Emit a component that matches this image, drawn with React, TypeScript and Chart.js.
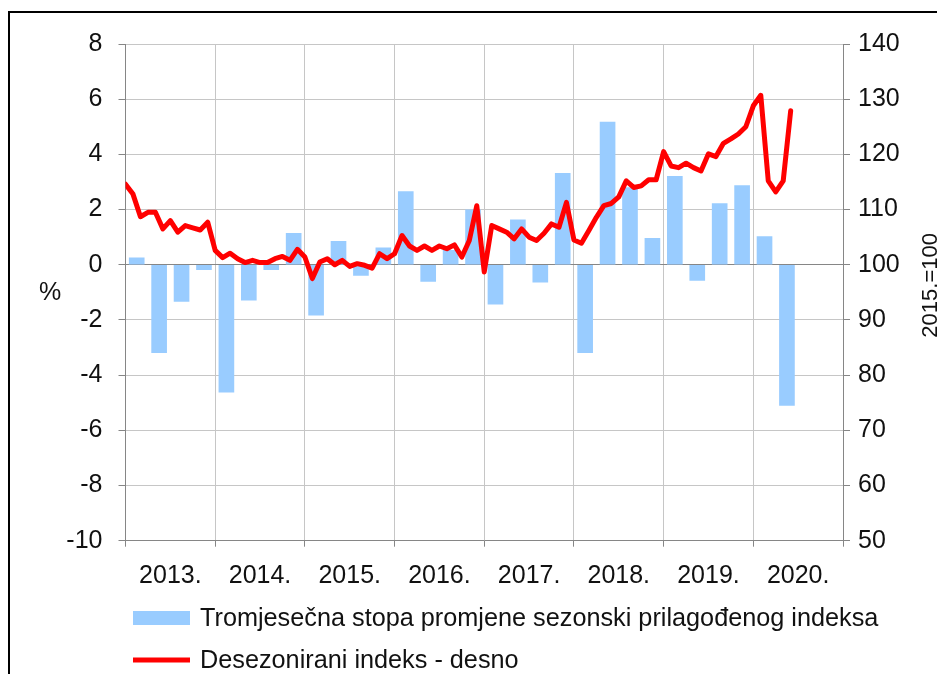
import React, { useEffect, useRef } from 'react';
import { Chart, registerables } from 'chart.js';

Chart.register(...registerables);

// ---- Data ----
const yearLabels = ['2013.', '2014.', '2015.', '2016.', '2017.', '2018.', '2019.', '2020.'];

// Quarterly rate of change (%), 2013 Q1 .. 2020 Q2
const quarterlyRate = [
  0.25, -3.19, -1.33, -0.18,
  -4.62, -1.28, -0.18, 1.14,
  -1.83, 0.85, -0.39, 0.61,
  2.65, -0.6, 0.52, 1.99,
  -1.43, 1.63, -0.63, 3.31,
  -3.19, 5.17, 2.8, 0.96,
  3.2, -0.57, 2.22, 2.87,
  1.02, -5.1,
];

// Seasonally adjusted index (2015 = 100), monthly Jan 2013 .. Jun 2020
const monthlyIndex = [
  114.6, 112.8, 108.7, 109.5, 109.5, 106.5, 108.0, 105.9, 107.1, 106.7, 106.3, 107.7,
  102.6, 101.3, 102.1, 101.1, 100.4, 100.8, 100.4, 100.4, 101.1, 101.5, 100.8, 102.8,
  101.4, 97.5, 100.5, 101.1, 100.0, 100.8, 99.7, 100.2, 99.9, 99.4, 102.0, 101.1,
  102.0, 105.3, 103.4, 102.6, 103.4, 102.6, 103.4, 102.9, 103.6, 101.4, 104.4, 110.7,
  98.7, 107.1, 106.5, 105.9, 104.7, 106.5, 105.0, 104.4, 105.7, 107.4, 106.8, 111.3,
  104.5, 103.9, 106.2, 108.6, 110.7, 111.1, 112.3, 115.2, 114.0, 114.3, 115.4, 115.4,
  120.5, 117.9, 117.6, 118.4, 117.6, 117.0, 120.1, 119.6, 122.0, 122.8, 123.7, 125.0,
  128.8, 130.7, 115.2, 113.2, 115.2, 127.9,
];

const barLabel = 'Tromjesečna stopa promjene sezonski prilagođenog indeksa';
const lineLabel = 'Desezonirani indeks - desno';
const leftTitle = '%';
const rightTitle = '2015.=100';

const FONT = "'Liberation Sans', Arial, sans-serif";
const TEXT = '#111111';
const BAR_COLOR = '#99CCFF';
const LINE_COLOR = '#FF0000';
const GRID = '#C6C6C6';
const AXIS = '#868686';

const overlayPlugin = {
  id: 'overlay',
  afterDraw(chart: any) {
    const ctx = chart.ctx as CanvasRenderingContext2D;
    const area = chart.chartArea;
    const mid = (area.top + area.bottom) / 2;
    ctx.save();
    ctx.fillStyle = TEXT;
    ctx.textBaseline = 'middle';
    ctx.textAlign = 'center';
    ctx.font = `25px ${FONT}`;
    ctx.fillText(leftTitle, 40, mid + 1);

    ctx.save();
    ctx.font = `22px ${FONT}`;
    ctx.translate(921, mid - 7);
    ctx.rotate(-Math.PI / 2);
    ctx.fillText(rightTitle, 0, 0);
    ctx.restore();

    // Legend
    ctx.font = `25.25px ${FONT}`;
    ctx.textAlign = 'left';
    ctx.fillStyle = BAR_COLOR;
    ctx.fillRect(123, 598, 57, 14);
    ctx.fillStyle = TEXT;
    ctx.fillText(barLabel, 190, 606);

    ctx.strokeStyle = LINE_COLOR;
    ctx.lineWidth = 5;
    ctx.beginPath();
    ctx.moveTo(123, 647);
    ctx.lineTo(180, 647);
    ctx.stroke();
    ctx.fillText(lineLabel, 190, 648);
    ctx.restore();
  },
};

export default function App() {
  const canvasRef = useRef<HTMLCanvasElement | null>(null);

  useEffect(() => {
    document.documentElement.style.overflow = 'hidden';
    const canvas = canvasRef.current;
    if (!canvas) return;
    Chart.defaults.font.family = FONT;

    const chart = new Chart(canvas, {
      type: 'bar',
      data: {
        datasets: [
          {
            type: 'line',
            label: lineLabel,
            data: monthlyIndex.map((v, i) => ({ x: i, y: v })),
            yAxisID: 'y1',
            xAxisID: 'x',
            borderColor: LINE_COLOR,
            backgroundColor: LINE_COLOR,
            borderWidth: 5,
            pointRadius: 0,
            tension: 0,
            borderJoinStyle: 'round',
            borderCapStyle: 'round',
            order: 0,
          } as any,
          {
            type: 'bar',
            label: barLabel,
            data: quarterlyRate.map((v, q) => ({ x: q * 3 + 1.5, y: v })),
            yAxisID: 'y',
            xAxisID: 'x',
            backgroundColor: BAR_COLOR,
            borderWidth: 0,
            barThickness: 15,
            order: 1,
          } as any,
        ],
      },
      options: {
        animation: false,
        responsive: false,
        maintainAspectRatio: false,
        layout: { padding: { left: 0, right: 0, top: 29.6, bottom: 66.3 } },
        plugins: {
          legend: { display: false },
          tooltip: { enabled: false },
        },
        scales: {
          x: {
            type: 'linear',
            position: 'bottom',
            min: 0,
            max: 96,
            offset: false,
            grid: {
              offset: false,
              color: GRID,
              tickColor: AXIS,
              lineWidth: 1,
              tickLength: 6,
              drawTicks: true,
            },
            border: { color: AXIS, width: 1 },
            ticks: {
              stepSize: 12,
              autoSkip: false,
              maxRotation: 0,
              minRotation: 0,
              labelOffset: 44.85,
              padding: 14,
              color: TEXT,
              font: { size: 25, family: FONT },
              callback: (v: any) => (v < 96 ? yearLabels[Math.round(v / 12)] : ''),
            },
            afterFit: (s: any) => {
              s.height = 70;
            },
          },
          y: {
            type: 'linear',
            position: 'left',
            min: -10,
            max: 8,
            grid: {
              color: (c: any) => (c.tick && c.tick.value === 0 ? AXIS : GRID),
              tickColor: AXIS,
              tickLength: 7,
              drawTicks: true,
            },
            border: { color: AXIS, width: 1 },
            ticks: {
              stepSize: 2,
              padding: 16,
              color: TEXT,
              font: { size: 25, family: FONT },
            },
            afterFit: (s: any) => {
              s.width = 115.5;
            },
          },
          y1: {
            type: 'linear',
            position: 'right',
            min: 50,
            max: 140,
            grid: {
              drawOnChartArea: false,
              color: AXIS,
              tickColor: AXIS,
              tickLength: 7,
              drawTicks: true,
            },
            border: { color: AXIS, width: 1 },
            ticks: {
              stepSize: 10,
              padding: 8,
              color: TEXT,
              font: { size: 25, family: FONT },
            },
            afterFit: (s: any) => {
              s.width = 102;
            },
          },
        } as any,
      },
      plugins: [overlayPlugin],
    });

    return () => chart.destroy();
  }, []);

  return (
    <div
      style={{
        position: 'relative',
        top: 3,
        width: 935,
        height: 664,
        borderTop: '2px solid #000',
        borderLeft: '2px solid #000',
      }}
    >
      <canvas ref={canvasRef} width={935} height={664} style={{ display: 'block' }} />
    </div>
  );
}
